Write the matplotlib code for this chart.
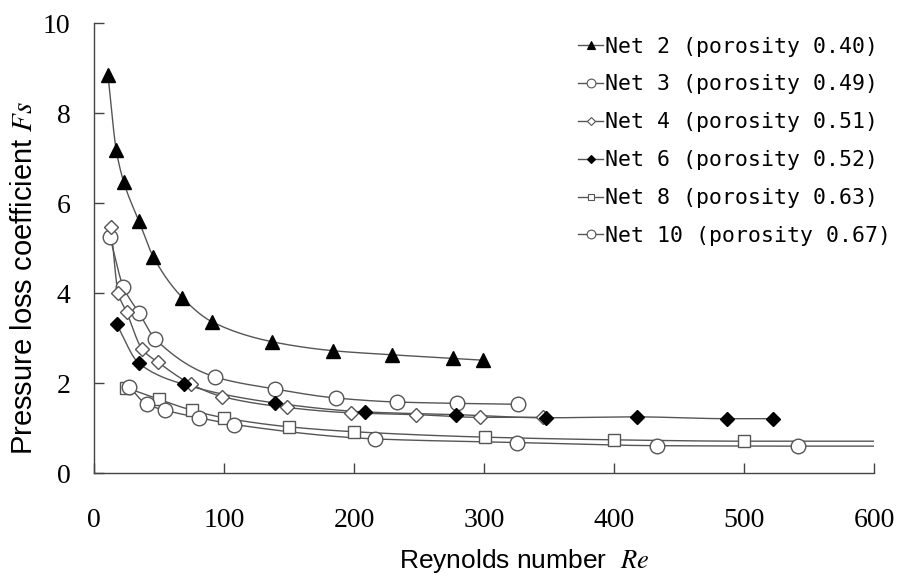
import numpy as np
import matplotlib
matplotlib.use("Agg")
from matplotlib import pyplot as plt

# -- data -- #
net2_re = [10.8, 17.2, 23.0, 34.6, 45.6, 68.0, 91.0, 137.0, 184.0, 229.0, 276.0, 299.0]
net2_fs = [8.84, 7.17, 6.46, 5.60, 4.81, 3.90, 3.36, 2.92, 2.72, 2.63, 2.55, 2.51]

net3_re = [12.3, 22.6, 34.9, 46.9, 93.0, 139.2, 186.0, 233.0, 279.6, 326.3]
net3_fs = [5.25, 4.14, 3.55, 2.99, 2.14, 1.87, 1.67, 1.58, 1.55, 1.53]

net4_re = [13.1, 18.7, 25.1, 37.2, 49.5, 74.6, 98.7, 148.2, 197.5, 247.5, 296.8, 345.7]
net4_fs = [5.47, 4.00, 3.58, 2.75, 2.46, 1.98, 1.70, 1.46, 1.34, 1.30, 1.24, 1.24]

net6_re = [17.4, 34.6, 69.5, 139.2, 208.5, 278.8, 348.0, 417.7, 487.0, 522.0]
net6_fs = [3.31, 2.44, 1.97, 1.56, 1.36, 1.30, 1.23, 1.25, 1.21, 1.21]

net8_re = [24.6, 50.0, 75.1, 100.0, 149.7, 200.0, 300.5, 400.3, 500.3]
net8_fs = [1.90, 1.64, 1.40, 1.23, 1.03, 0.92, 0.80, 0.74, 0.71]

net10_re = [27.2, 40.5, 54.6, 81.0, 107.9, 216.5, 325.4, 433.4, 541.3]
net10_fs = [1.92, 1.53, 1.40, 1.23, 1.08, 0.76, 0.68, 0.61, 0.60]

# fitted lines of Net 8 / Net 10 run on to the axis end
line_end_re = 600
net8_line_end = 0.71
net10_line_end = 0.60

labels = [
    "Net 2 (porosity 0.40)",
    "Net 3 (porosity 0.49)",
    "Net 4 (porosity 0.51)",
    "Net 6 (porosity 0.52)",
    "Net 8 (porosity 0.63)",
    "Net 10 (porosity 0.67)",
]


def pchip(x, y, n=400):
    """Monotone cubic curve through the points, only used to draw a smooth line."""
    x = np.asarray(x, float)
    y = np.asarray(y, float)
    h = np.diff(x)
    d = np.diff(y) / h
    m = np.zeros_like(y)
    for k in range(1, len(x) - 1):
        if d[k - 1] * d[k] > 0:
            w1 = 2 * h[k] + h[k - 1]
            w2 = h[k] + 2 * h[k - 1]
            m[k] = (w1 + w2) / (w1 / d[k - 1] + w2 / d[k])
    m[0] = d[0]
    m[-1] = d[-1]
    xs = np.linspace(x[0], x[-1], n)
    idx = np.clip(np.searchsorted(x, xs) - 1, 0, len(h) - 1)
    t = (xs - x[idx]) / h[idx]
    h00 = 2 * t**3 - 3 * t**2 + 1
    h10 = t**3 - 2 * t**2 + t
    h01 = -2 * t**3 + 3 * t**2
    h11 = t**3 - t**2
    ys = h00 * y[idx] + h10 * h[idx] * m[idx] + h01 * y[idx + 1] + h11 * h[idx] * m[idx + 1]
    return xs, ys


plt.rcParams["mathtext.fontset"] = "stix"

fig = plt.figure(figsize=(9, 5.77), dpi=100)
ax = fig.add_axes([0.1044, 0.180, 0.8667, 0.780])

line_col = "#555555"
series = [
    (net2_re, net2_fs, None, dict(marker="^", ms=10, mfc="black", mec="black")),
    (net3_re, net3_fs, None, dict(marker="o", ms=10.5, mfc="white", mec=line_col)),
    (net4_re, net4_fs, None, dict(marker="D", ms=7.5, mfc="white", mec=line_col)),
    (net6_re, net6_fs, None, dict(marker="D", ms=7.5, mfc="black", mec="black")),
    (net8_re, net8_fs, net8_line_end, dict(marker="s", ms=8, mfc="white", mec=line_col)),
    (net10_re, net10_fs, net10_line_end, dict(marker="o", ms=10.5, mfc="white", mec=line_col)),
]

handles = []
for (re_, fs_, end, mk), label in zip(series, labels):
    cx, cy = list(re_), list(fs_)
    if end is not None:
        cx.append(line_end_re)
        cy.append(end)
    xs, ys = pchip(cx, cy)
    ax.plot(xs, ys, color=line_col, lw=1.0, zorder=2)
    ax.plot(re_, fs_, ls="none", mew=1.0, zorder=3, **mk)
    h, = ax.plot([], [], color=line_col, lw=1.0, marker=mk["marker"],
                 ms=mk["ms"] * 0.6, mfc=mk["mfc"], mec=mk["mec"], mew=0.8)
    handles.append(h)

ax.set_xlim(0, 600)
ax.set_ylim(0, 10)
ax.set_xticks(range(0, 601, 100))
ax.set_yticks(range(0, 11, 2))
for s in ["top", "right"]:
    ax.spines[s].set_visible(False)
for s in ["left", "bottom"]:
    ax.spines[s].set_color("#444444")
    ax.spines[s].set_linewidth(1.0)
ax.tick_params(direction="in", length=7, width=1.0, color="#444444")
ax.tick_params(axis="y", pad=17)
ax.tick_params(axis="x", pad=25)
for lab in ax.get_xticklabels() + ax.get_yticklabels():
    lab.set_fontfamily("Liberation Serif")
    lab.set_fontsize(20)

ax.set_xlabel("Reynolds number  $Re$", fontfamily="Liberation Sans", fontsize=19)
ax.set_ylabel("Pressure loss coefficient $Fs$", fontfamily="Liberation Sans", fontsize=21)
ax.xaxis.set_label_coords(0.551, -0.164)
ax.yaxis.set_label_coords(-0.072, 0.433)

ax.legend(handles, labels, loc="upper left", bbox_to_anchor=(0.6205, 0.970), frameon=False,
          prop={"family": "DejaVu Sans Mono", "size": 15.5}, handlelength=1.17,
          handletextpad=0.1, labelspacing=0.83, borderpad=0, borderaxespad=0)

fig.savefig("out.png", dpi=100)
